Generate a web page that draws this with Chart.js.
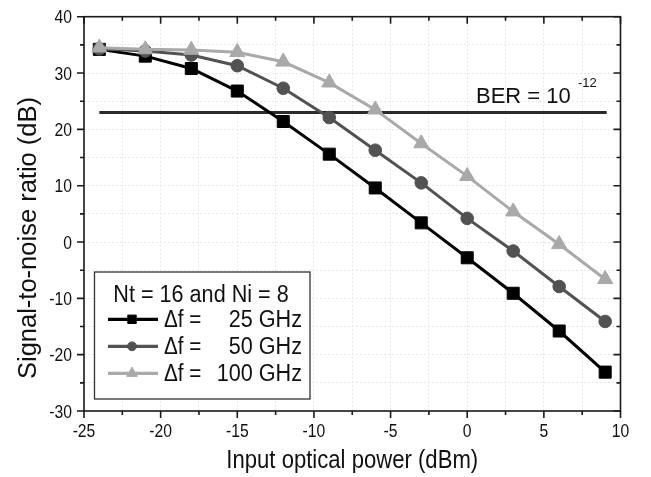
<!DOCTYPE html>
<html>
<head>
<meta charset="utf-8">
<script src="https://cdn.jsdelivr.net/npm/chart.js@4/dist/chart.umd.min.js"></script>
<style>
  html, body { margin: 0; padding: 0; background: #fff; }
  #wrap { width: 651px; height: 477px; }
</style>
</head>
<body>
<div id="wrap"><canvas id="snrChart" width="651" height="477"></canvas></div>
<script>
// Input optical power (dBm) for every measured point
const inputPower = [-24, -21, -18, -15, -12, -9, -6, -3, 0, 3, 6, 9];

// Signal-to-noise ratio (dB) per channel spacing
const snr25 = [34.2, 33.0, 30.8, 26.8, 21.4, 15.6, 9.6, 3.4, -2.8, -9.1, -15.8, -23.1];
const snr50 = [34.3, 33.9, 33.2, 31.3, 27.3, 22.1, 16.3, 10.5, 4.2, -1.6, -7.9, -14.1];
const snr100 = [34.5, 34.2, 34.1, 33.7, 32.0, 28.3, 23.5, 17.5, 11.7, 5.4, -0.4, -6.6];

// BER = 1e-12 threshold line
const berSnr = 23.0;
const berPower = [-24.0, 9.1];

// Tick labels
const xTickLabels = [-25, -20, -15, -10, -5, 0, 5, 10];
const yTickLabels = [-30, -20, -10, 0, 10, 20, 30, 40];

const legendTitle = 'Nt = 16 and Ni = 8';
const spacingLabels = ['25 GHz', '50 GHz', '100 GHz'];

const FONT = '"Liberation Sans", Arial, sans-serif';
const colors = ['#000000', '#525252', '#a9a9a9'];
const markers = ['rect', 'circle', 'triangle'];
const markerSize = [8.5, 6.3, 8.7];

function toPoints(xs, ys) {
    return xs.map((x, i) => ({ x: x, y: ys[i] }));
}

// text squeezed horizontally, like the narrow lettering of the original
function narrowText(ctx, text, x, y, size, align, sx) {
    ctx.save();
    ctx.translate(x, y);
    ctx.scale(sx, 1);
    ctx.font = size + 'px ' + FONT;
    ctx.textAlign = align;
    ctx.textBaseline = 'alphabetic';
    ctx.fillText(text, 0, 0);
    ctx.restore();
}

const decorations = {
    id: 'decorations',
    beforeDatasetsDraw(chart) {
        const ctx = chart.ctx;
        const area = chart.chartArea;
        const xs = chart.scales.x;
        const ys = chart.scales.y;
        ctx.save();
        ctx.strokeStyle = '#1a1a1a';
        ctx.lineWidth = 1.6;
        ctx.strokeRect(area.left, area.top, area.right - area.left, area.bottom - area.top);

        // tick marks: outward on bottom/left, inward on top/right
        ctx.beginPath();
        for (let v = -25; v <= 10; v += 2.5) {
            const px = xs.getPixelForValue(v);
            const len = v % 5 === 0 ? 7 : 4;
            ctx.moveTo(px, area.bottom);
            ctx.lineTo(px, area.bottom + len);
            ctx.moveTo(px, area.top);
            ctx.lineTo(px, area.top + len);
        }
        for (let v = -30; v <= 40; v += 5) {
            const py = ys.getPixelForValue(v);
            const len = v % 10 === 0 ? 7 : 4;
            ctx.moveTo(area.left, py);
            ctx.lineTo(area.left - len, py);
            ctx.moveTo(area.right, py);
            ctx.lineTo(area.right - len, py);
        }
        ctx.stroke();

        // tick labels
        ctx.fillStyle = '#111';
        xTickLabels.forEach(v => {
            narrowText(ctx, String(v), xs.getPixelForValue(v), 437, 18.5, 'center', 0.85);
        });
        yTickLabels.forEach(v => {
            narrowText(ctx, String(v), 72, ys.getPixelForValue(v) + 6.6, 18.5, 'right', 0.85);
        });
        ctx.restore();
    },
    afterDraw(chart) {
        const ctx = chart.ctx;
        const area = chart.chartArea;
        ctx.save();
        ctx.fillStyle = '#111';

        // axis titles
        narrowText(ctx, 'Input optical power (dBm)', (area.left + area.right) / 2, 468, 26, 'center', 0.85);
        ctx.save();
        ctx.translate(36, 238);
        ctx.rotate(-Math.PI / 2);
        ctx.font = '25.5px ' + FONT;
        ctx.textAlign = 'center';
        ctx.textBaseline = 'alphabetic';
        ctx.fillText('Signal-to-noise ratio (dB)', 0, 0);
        ctx.restore();

        // BER label
        ctx.font = '22px ' + FONT;
        ctx.textAlign = 'left';
        ctx.textBaseline = 'alphabetic';
        ctx.fillText('BER = 10', 476, 102.5);
        ctx.font = '13px ' + FONT;
        ctx.fillText('-12', 578, 87);

        // legend box
        const bx = 94.5, by = 272, bw = 215.5, bh = 127;
        ctx.fillStyle = '#fff';
        ctx.fillRect(bx, by, bw, bh);
        ctx.strokeStyle = '#333';
        ctx.lineWidth = 1.3;
        ctx.strokeRect(bx, by, bw, bh);

        ctx.fillStyle = '#111';
        narrowText(ctx, legendTitle, 201, 301.7, 23.5, 'center', 0.92);

        chart.data.datasets.slice(0, 3).forEach((ds, i) => {
            const base = 327.3 + i * 27;
            const y = base - 8;
            ctx.strokeStyle = ds.borderColor;
            ctx.lineWidth = 3.3;
            ctx.beginPath();
            ctx.moveTo(108, y);
            ctx.lineTo(158, y);
            ctx.stroke();
            ctx.fillStyle = ds.backgroundColor;
            ctx.lineWidth = 1;
            Chart.helpers.drawPoint(ctx, {
                pointStyle: ds.pointStyle,
                radius: ds.pointRadius * 0.7,
                borderWidth: 1,
                rotation: 0
            }, 132, y);
            ctx.fillStyle = '#111';
            narrowText(ctx, '\u0394f =', 164, base, 23.5, 'left', 0.88);
            narrowText(ctx, spacingLabels[i], 302, base, 23.5, 'right', 0.92);
        });
        ctx.restore();
    }
};

const seriesValues = [snr25, snr50, snr100];
const datasets = seriesValues.map((vals, i) => ({
    label: '\u0394f = ' + spacingLabels[i],
    data: toPoints(inputPower, vals),
    showLine: true,
    borderColor: colors[i],
    backgroundColor: colors[i],
    borderWidth: 3,
    pointStyle: markers[i],
    pointRadius: markerSize[i],
    pointBorderWidth: 1,
    pointBorderColor: colors[i],
    pointBackgroundColor: colors[i],
    order: 2 - i
}));
datasets.push({
    label: 'BER',
    data: toPoints(berPower, [berSnr, berSnr]),
    showLine: true,
    borderColor: '#2b2b2b',
    borderWidth: 3,
    pointRadius: 0,
    order: 5
});

new Chart(document.getElementById('snrChart'), {
    type: 'scatter',
    data: { datasets: datasets },
    options: {
        responsive: false,
        animation: false,
        layout: { padding: { top: 16.7, right: 30.5, left: 0, bottom: 0 } },
        plugins: { legend: { display: false }, tooltip: { enabled: false } },
        scales: {
            x: {
                type: 'linear',
                min: -25,
                max: 10,
                afterFit(scale) { scale.height = 66; },
                afterBuildTicks(scale) {
                    const t = [];
                    for (let v = -25; v <= 10; v += 2.5) t.push({ value: v });
                    scale.ticks = t;
                },
                ticks: { display: false, autoSkip: false },
                grid: { color: '#e8e8e8', lineWidth: 1, drawTicks: false },
                border: { display: false, dash: [2, 2] }
            },
            y: {
                type: 'linear',
                min: -30,
                max: 40,
                afterFit(scale) { scale.width = 84; },
                afterBuildTicks(scale) {
                    const t = [];
                    for (let v = -30; v <= 40; v += 5) t.push({ value: v });
                    scale.ticks = t;
                },
                ticks: { display: false, autoSkip: false },
                grid: { color: '#e8e8e8', lineWidth: 1, drawTicks: false },
                border: { display: false, dash: [2, 2] }
            }
        }
    },
    plugins: [decorations]
});
</script>
</body>
</html>
